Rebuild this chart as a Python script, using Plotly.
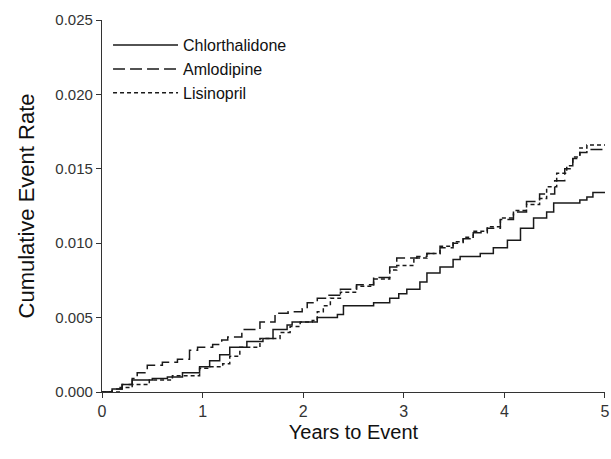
import plotly.graph_objects as go

# Chlorthalidone (solid)
chl_years = [0, 0.1, 0.2, 0.3, 0.5, 0.65, 0.8, 0.97, 1.07, 1.17, 1.27, 1.44, 1.6, 1.7, 1.84, 1.89,
             2.14, 2.34, 2.4, 2.7, 2.86, 2.95, 3.03, 3.16, 3.23, 3.36, 3.49, 3.56, 3.76, 3.89,
             4.03, 4.16, 4.29, 4.42, 4.49, 4.75, 4.82, 4.88, 5.0]
chl_rate = [0, 0.0002, 0.0005, 0.0008, 0.0009, 0.001, 0.0013, 0.0017, 0.0021, 0.0025, 0.003, 0.0034,
            0.0036, 0.0042, 0.0045, 0.0047, 0.005, 0.0052, 0.0058, 0.006, 0.0063, 0.0066, 0.0069,
            0.0074, 0.008, 0.0084, 0.0089, 0.0091, 0.0093, 0.0097, 0.0102, 0.011, 0.0117, 0.0121,
            0.0127, 0.0129, 0.0131, 0.0134, 0.0134]

# Amlodipine (long dash)
aml_years = [0, 0.1, 0.2, 0.3, 0.35, 0.45, 0.6, 0.75, 0.87, 0.95, 1.1, 1.19, 1.25, 1.39, 1.57, 1.72,
             1.85, 1.99, 2.04, 2.14, 2.24, 2.37, 2.53, 2.7, 2.86, 2.93, 3.13, 3.23, 3.36, 3.49,
             3.59, 3.69, 3.83, 3.96, 4.09, 4.22, 4.35, 4.5, 4.6, 4.68, 4.75, 4.82, 5.0]
aml_rate = [0, 0.0002, 0.0005, 0.0009, 0.0013, 0.0018, 0.002, 0.0022, 0.0028, 0.003, 0.0032, 0.0035,
            0.0037, 0.0042, 0.0047, 0.0053, 0.0054, 0.0056, 0.006, 0.0063, 0.0065, 0.0069, 0.0072,
            0.0077, 0.0084, 0.009, 0.0091, 0.0093, 0.0097, 0.01, 0.0103, 0.0107, 0.011, 0.0116,
            0.0121, 0.0128, 0.0133, 0.0142, 0.015, 0.0157, 0.0161, 0.0163, 0.0163]

# Lisinopril (short dash)
lis_years = [0, 0.18, 0.3, 0.47, 0.7, 0.97, 1.05, 1.2, 1.27, 1.37, 1.57, 1.77, 1.87, 1.97, 2.09,
             2.14, 2.2, 2.27, 2.37, 2.53, 2.7, 2.86, 2.93, 3.1, 3.23, 3.36, 3.49, 3.59, 3.69, 3.83,
             3.96, 4.09, 4.22, 4.35, 4.42, 4.52, 4.62, 4.68, 4.75, 4.82, 5.0]
lis_rate = [0, 0.0003, 0.0005, 0.0008, 0.0011, 0.0016, 0.0017, 0.0019, 0.0024, 0.003, 0.0036, 0.004,
            0.0044, 0.0047, 0.0048, 0.0054, 0.0058, 0.0063, 0.0067, 0.0071, 0.0076, 0.0082, 0.0085,
            0.009, 0.0093, 0.0098, 0.0101, 0.0104, 0.0108, 0.0111, 0.0117, 0.0122, 0.0126, 0.013,
            0.0138, 0.0147, 0.0152, 0.0158, 0.0164, 0.0166, 0.0166]

x_ticks = [0, 1, 2, 3, 4, 5]
y_ticks = [0.0, 0.005, 0.010, 0.015, 0.020, 0.025]
y_tick_labels = ["0.000", "0.005", "0.010", "0.015", "0.020", "0.025"]

line_col = "#1a1a1a"
fig = go.Figure()
fig.add_trace(go.Scatter(x=chl_years, y=chl_rate, mode="lines", name="Chlorthalidone",
                         line=dict(color=line_col, width=1.5, shape="hv", dash="solid")))
fig.add_trace(go.Scatter(x=aml_years, y=aml_rate, mode="lines", name="Amlodipine",
                         line=dict(color=line_col, width=1.5, shape="hv", dash="12px,5px")))
fig.add_trace(go.Scatter(x=lis_years, y=lis_rate, mode="lines", name="Lisinopril",
                         line=dict(color=line_col, width=1.5, shape="hv", dash="4px,3px")))

font_fam = "Liberation Sans, Arial, sans-serif"
fig.update_layout(
    width=611, height=459,
    margin=dict(l=102, r=6, t=20, b=67),
    paper_bgcolor="white", plot_bgcolor="white",
    font=dict(family=font_fam, color="#222"),
    showlegend=True,
    legend=dict(x=0.012, y=0.978, xanchor="left", yanchor="top",
                font=dict(size=16, color="#111"), bgcolor="rgba(0,0,0,0)",
                itemwidth=65, tracegroupgap=0),
    xaxis=dict(range=[0, 5.0001], tickvals=x_ticks, ticktext=[str(v) for v in x_ticks],
               showgrid=False, zeroline=False, showline=True, linecolor="#333", linewidth=1.2,
               ticks="outside", ticklen=5, tickcolor="#333", tickwidth=1.2, automargin=False,
               tickfont=dict(size=16, color="#333"),
               title=dict(text="Years to Event", font=dict(size=20, color="#111"), standoff=5)),
    yaxis=dict(range=[0, 0.025], tickvals=y_ticks, ticktext=y_tick_labels,
               showgrid=False, zeroline=False, showline=True, linecolor="#333", linewidth=1.2,
               ticks="outside", ticklen=5, tickcolor="#333", tickwidth=1.2, automargin=False,
               tickfont=dict(size=15, color="#333"),
               title=dict(text="Cumulative Event Rate", font=dict(size=22, color="#111"), standoff=14)),
)

fig.write_html("out.html", config={"displayModeBar": False},
               post_script="document.body.style.margin='0';document.body.style.overflow='hidden';")
